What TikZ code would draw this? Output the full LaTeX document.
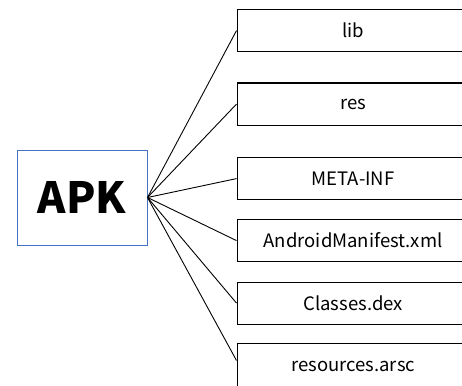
\documentclass[tikz,border=0pt]{standalone}
\usepackage{fontspec}
\setmainfont{Noto Sans CJK SC}
\usepackage{tikz}
\definecolor{apkblue}{RGB}{68,114,196}

\begin{document}
\begin{tikzpicture}[x=1pt,y=-1pt,
part/.style={draw, line width=1.2pt, minimum width=232pt, minimum height=42pt, anchor=north west, inner sep=0pt, font=\fontsize{18.5}{18.5}\selectfont},
root/.style={draw=apkblue, line width=1pt, minimum width=130pt, minimum height=95pt, inner sep=0pt, font=\fontsize{43}{43}\selectfont\bfseries}]

\useasboundingbox (0,0) rectangle (462,385);
\begin{scope}
\clip (0,0) rectangle (462,385);
\node[root] (apk) at (82,197.5) {APK};
\node[part] (lib) at (236.5,9) {lib};
\node[part] (res) at (236.5,82.5) {res};
\node[part] (meta) at (236.5,157) {META-INF};
\node[part] (manifest) at (236.5,219) {AndroidManifest.xml};
\node[part] (classes) at (236.5,281.5) {Classes.dex};
\node[part, minimum height=46pt] (arsc) at (236.5,343) {resources.arsc};
\foreach \n in {lib,res,meta,manifest,classes}
  \draw[line width=0.9pt] (apk.east)--(\n.west);
\draw[line width=0.9pt] (apk.east)--(arsc.177);
\end{scope}
\end{tikzpicture}
\end{document}
